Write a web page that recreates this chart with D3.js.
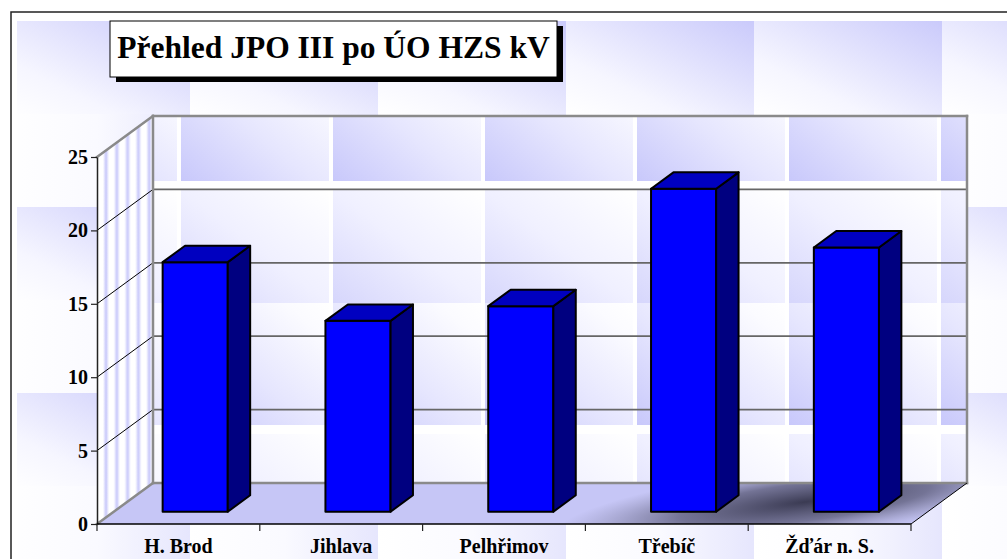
<!DOCTYPE html>
<html lang="cs">
<head>
    <meta charset="UTF-8">
    <title>Přehled JPO III po ÚO HZS kV</title>
    <style>
        body { margin: 0; background: #fff; }
        #chart text { font-family: "Liberation Serif", "Times New Roman", serif; font-weight: bold; fill: #000; }
    </style>
</head>
<body>
    <div id="chart"></div>
    <script src="https://d3js.org/d3.v7.min.js"></script>
    <script>
const title = "Přehled JPO III po ÚO HZS kV";
const categories = ["H. Brod", "Jihlava", "Pelhřimov", "Třebíč", "Žďár n. S."];
const values = [17, 13, 14, 22, 18];
const yTicks = [0, 5, 10, 15, 20, 25];

const width = 1007, height = 559;
// 3d box: front plane and how far the back wall is shifted
const plot = {left: 97, right: 911, top: 157, bottom: 524};
const depthX = 56, depthY = 41;
const barFront = 0.3, barBack = 0.7;

const svg = d3.select("#chart").append("svg")
    .attr("width", width)
    .attr("height", height);

const yScale = d3.scaleLinear().domain([0, 25]).range([plot.bottom, plot.top]);
const xScale = d3.scaleBand().domain(categories).range([plot.left, plot.right]).padding(0);

// point at depth d (0 = front, 1 = back wall)
function P(x, y, d) { return [x + d * depthX, y - d * depthY]; }
function pts(arr) { return arr.map(p => p.join(",")).join(" "); }

const defs = svg.append("defs");

function linGrad(id, x1, y1, x2, y2, stops) {
    const g = defs.append("linearGradient").attr("id", id)
        .attr("x1", x1).attr("y1", y1).attr("x2", x2).attr("y2", y2);
    stops.forEach(s => g.append("stop").attr("offset", s[0]).attr("stop-color", s[1]));
}

// background texture
linGrad("bgA", 0, 1, 1, 0, [[0, "#ffffff"], [0.3, "#f6f6ff"], [1, "#cacafb"]]);
linGrad("bgB", 0, 0, 1, 0, [[0, "#ffffff"], [0.5, "#fafaff"], [1, "#e6e6fd"]]);
const bgTile = defs.append("pattern").attr("id", "bgTile")
    .attr("patternUnits", "userSpaceOnUse")
    .attr("x", 2).attr("y", 21).attr("width", 188).attr("height", 186);
bgTile.append("rect").attr("width", 188).attr("height", 93).attr("fill", "url(#bgA)");
bgTile.append("rect").attr("y", 93).attr("width", 188).attr("height", 93).attr("fill", "url(#bgB)");

// back wall texture
linGrad("wallA", 0, 1, 1, 0, [[0, "#c8c8fb"], [0.45, "#e6e6fe"], [0.85, "#fbfbff"], [1, "#ffffff"]]);
linGrad("wallB", 0, 1, 1, 0, [[0, "#d6d6fc"], [0.5, "#f0f0ff"], [1, "#ffffff"]]);
const wallTile = defs.append("pattern").attr("id", "wallTile")
    .attr("patternUnits", "userSpaceOnUse")
    .attr("x", 181).attr("y", 59).attr("width", 152).attr("height", 244);
wallTile.append("rect").attr("width", 152).attr("height", 244).attr("fill", "#fff");
wallTile.append("rect").attr("width", 148).attr("height", 122).attr("fill", "url(#wallA)");
wallTile.append("rect").attr("y", 131).attr("width", 148).attr("height", 113).attr("fill", "url(#wallB)");

// side wall stripes
linGrad("stripe", 0, 0, 1, 0, [[0, "#ffffff"], [0.5, "#c6c6fa"], [1, "#ffffff"]]);
const stripes = defs.append("pattern").attr("id", "stripes")
    .attr("patternUnits", "userSpaceOnUse")
    .attr("x", 102).attr("y", 0).attr("width", 10.8).attr("height", 20);
stripes.append("rect").attr("width", 10.8).attr("height", 20).attr("fill", "#fff");
stripes.append("rect").attr("x", 1).attr("width", 6).attr("height", 20).attr("fill", "url(#stripe)");

// floor shadow
const shade = defs.append("radialGradient").attr("id", "shade")
    .attr("gradientUnits", "userSpaceOnUse")
    .attr("cx", 805).attr("cy", 502).attr("r", 250)
    .attr("gradientTransform", "translate(805,502) rotate(-7) scale(1,0.15) translate(-805,-502)");
shade.append("stop").attr("offset", 0).attr("stop-color", "#33334a").attr("stop-opacity", 0.95);
shade.append("stop").attr("offset", 0.5).attr("stop-color", "#50506c").attr("stop-opacity", 0.7);
shade.append("stop").attr("offset", 1).attr("stop-color", "#8080a0").attr("stop-opacity", 0);

const floorPoly = [P(plot.left, plot.bottom, 0), P(plot.right, plot.bottom, 0),
    P(plot.right, plot.bottom, 1), P(plot.left, plot.bottom, 1)];
defs.append("clipPath").attr("id", "floorClip")
    .append("polygon").attr("points", pts(floorPoly));

// background + frame
svg.append("rect").attr("x", 17).attr("y", 21).attr("width", width - 17).attr("height", height - 21)
    .attr("fill", "url(#bgTile)");
svg.append("rect").attr("x", 11).attr("y", 12).attr("width", 1010).attr("height", 560)
    .attr("fill", "none").attr("stroke", "#222").attr("stroke-width", 1.5);

// walls
const backTL = P(plot.left, plot.top, 1), backBR = P(plot.right, plot.bottom, 1);
svg.append("rect")
    .attr("x", backTL[0]).attr("y", backTL[1])
    .attr("width", backBR[0] - backTL[0]).attr("height", backBR[1] - backTL[1])
    .attr("fill", "url(#wallTile)");
svg.append("polygon")
    .attr("points", pts([P(plot.left, plot.top, 0), P(plot.left, plot.top, 1),
        P(plot.left, plot.bottom, 1), P(plot.left, plot.bottom, 0)]))
    .attr("fill", "url(#stripes)");

// floor
svg.append("polygon").attr("points", pts(floorPoly)).attr("fill", "#c6c6f6");
svg.append("rect").attr("x", plot.left).attr("y", 470).attr("width", 900).attr("height", 60)
    .attr("clip-path", "url(#floorClip)").attr("fill", "url(#shade)");

// gridlines on side and back wall
const grid = svg.append("g");
yTicks.filter(v => v > 0 && v < 25).forEach(v => {
    const y = yScale(v);
    grid.append("line")
        .attr("x1", plot.left).attr("y1", y)
        .attr("x2", P(plot.left, y, 1)[0]).attr("y2", P(plot.left, y, 1)[1])
        .attr("stroke", "#000").attr("stroke-width", 1);
    grid.append("line")
        .attr("x1", P(plot.left, y, 1)[0]).attr("y1", P(plot.left, y, 1)[1])
        .attr("x2", P(plot.right, y, 1)[0]).attr("y2", P(plot.right, y, 1)[1])
        .attr("stroke", "#666").attr("stroke-width", 1.8);
});

// box edges
const edge = "#8a8a8a";
[[P(plot.left, plot.top, 0), P(plot.left, plot.top, 1)],
 [P(plot.left, plot.top, 1), P(plot.right, plot.top, 1)],
 [P(plot.right, plot.top, 1), P(plot.right, plot.bottom, 1)],
 [P(plot.left, plot.top, 1), P(plot.left, plot.bottom, 1)],
 [P(plot.left, plot.bottom, 1), P(plot.right, plot.bottom, 1)],
 [P(plot.left, plot.bottom, 0), P(plot.left, plot.bottom, 1)]].forEach(s => {
    svg.append("line")
        .attr("x1", s[0][0]).attr("y1", s[0][1]).attr("x2", s[1][0]).attr("y2", s[1][1])
        .attr("stroke", edge).attr("stroke-width", 2.5).attr("stroke-linecap", "square");
});
svg.append("line")
    .attr("x1", plot.right).attr("y1", plot.bottom)
    .attr("x2", P(plot.right, plot.bottom, 1)[0]).attr("y2", P(plot.right, plot.bottom, 1)[1])
    .attr("stroke", "#000").attr("stroke-width", 1);

// bars
const barW = xScale.bandwidth() * 0.4;
const bars = svg.append("g").selectAll("g")
    .data(categories.map((c, i) => ({c, v: values[i]})))
    .join("g")
    .attr("stroke", "#000").attr("stroke-width", 2).attr("stroke-linejoin", "round");

bars.each(function(d) {
    const g = d3.select(this);
    const x0 = xScale(d.c) + (xScale.bandwidth() - barW) / 2, x1 = x0 + barW;
    const y0 = yScale(0), y1 = yScale(d.v);
    g.append("polygon").attr("fill", "#0000ff")
        .attr("points", pts([P(x0, y1, barFront), P(x1, y1, barFront), P(x1, y0, barFront), P(x0, y0, barFront)]));
    g.append("polygon").attr("fill", "#000080")
        .attr("points", pts([P(x1, y1, barFront), P(x1, y1, barBack), P(x1, y0, barBack), P(x1, y0, barFront)]));
    g.append("polygon").attr("fill", "#0000c0")
        .attr("points", pts([P(x0, y1, barFront), P(x0, y1, barBack), P(x1, y1, barBack), P(x1, y1, barFront)]));
});

// y axis
const yAxis = svg.append("g")
    .attr("transform", `translate(${plot.left},0)`)
    .call(d3.axisLeft(yScale).tickValues(yTicks).tickSize(6).tickSizeOuter(0).tickPadding(3));
yAxis.attr("font-family", null).attr("font-size", null);
yAxis.select(".domain").attr("stroke", "#222").attr("stroke-width", 1.5);
yAxis.selectAll(".tick line").attr("stroke", "#222").attr("stroke-width", 1.2);
yAxis.selectAll("text").style("font-size", "20px");

// x axis baseline + category separators
svg.append("line")
    .attr("x1", plot.left).attr("y1", plot.bottom).attr("x2", plot.right).attr("y2", plot.bottom)
    .attr("stroke", "#000").attr("stroke-width", 1.5);
const seps = categories.map(c => xScale(c)).concat([plot.right]);
svg.append("g").selectAll("line").data(seps).join("line")
    .attr("x1", d => d).attr("x2", d => d)
    .attr("y1", plot.bottom).attr("y2", plot.bottom + 7)
    .attr("stroke", "#222").attr("stroke-width", 1.2);
svg.append("g").selectAll("text").data(categories).join("text")
    .attr("x", d => xScale(d) + xScale.bandwidth() / 2)
    .attr("y", 553)
    .attr("text-anchor", "middle")
    .style("font-size", "20px")
    .text(d => d);

// title box
const tb = {x: 110, y: 21, w: 447, h: 56};
svg.append("rect").attr("x", tb.x + 6).attr("y", tb.y + 5).attr("width", tb.w).attr("height", tb.h)
    .attr("fill", "#000");
svg.append("rect").attr("x", tb.x).attr("y", tb.y).attr("width", tb.w).attr("height", tb.h)
    .attr("fill", "#fff").attr("stroke", "#000").attr("stroke-width", 1);
svg.append("text")
    .attr("x", tb.x + tb.w / 2).attr("y", 58)
    .attr("text-anchor", "middle")
    .style("font-size", "31.5px")
    .text(title);
    </script>
</body>
</html>
